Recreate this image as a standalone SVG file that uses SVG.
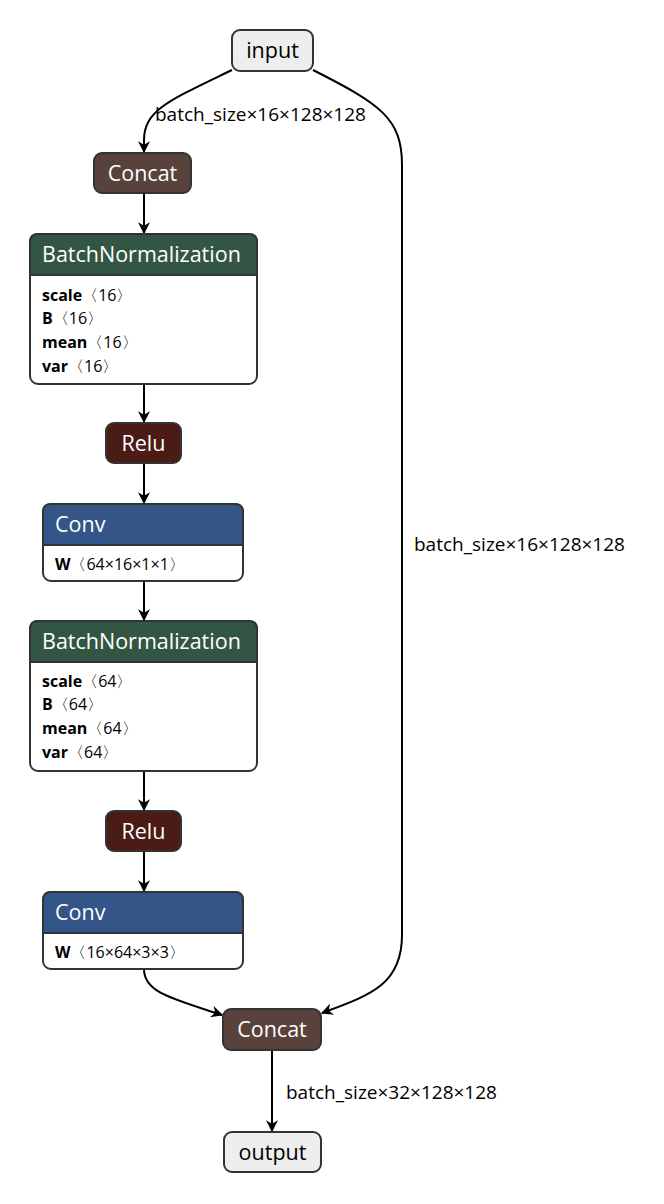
<svg xmlns="http://www.w3.org/2000/svg" width="664" height="1204" viewBox="0 0 664 1204">
  <style>
    .box { stroke: #333; stroke-width: 2; }
    .io { fill: #eeeeee; }
    .tensor { fill: #59423b; }
    .norm { fill: #335544; }
    .act { fill: #4b1b16; }
    .layer { fill: #335588; }
    .body { fill: #ffffff; }
    .title { font-family: "Open Sans", "DejaVu Sans", sans-serif; font-size: 21.5px; }
    .light { fill: #ffffff; }
    .dark { fill: #000000; }
    .attr { font-family: "Open Sans", "DejaVu Sans", sans-serif; font-size: 16px; fill: #000; }
    .attr .k { font-weight: bold; }
    .attr .br { font-family: "DejaVu Sans", sans-serif; }
    .edge { fill: none; stroke: #000; stroke-width: 2; }
    .elabel { font-family: "Open Sans", "DejaVu Sans", sans-serif; font-size: 19px; fill: #000; }
  </style>
  <defs>
    <marker id="arrow" viewBox="0 0 10 10" refX="9" refY="5" markerWidth="12" markerHeight="12" markerUnits="userSpaceOnUse" orient="auto">
      <path d="M0,0 L10,5 L0,10 L3,5 z" fill="#000"/>
    </marker>
  </defs>

  <!-- connectors -->
  <g id="edges">
    <path class="edge" d="M232,70 C170,100 144,110 144,140 L144,152" marker-end="url(#arrow)"/>
    <path class="edge" d="M313,70 C380,104 402,118 402,165 L402,935 C402,985 370,995 322,1013" marker-end="url(#arrow)"/>
    <path class="edge" d="M144,193 L144,233" marker-end="url(#arrow)"/>
    <path class="edge" d="M144,384 L144,422" marker-end="url(#arrow)"/>
    <path class="edge" d="M144,463 L144,503" marker-end="url(#arrow)"/>
    <path class="edge" d="M144,581 L144,620" marker-end="url(#arrow)"/>
    <path class="edge" d="M144,771 L144,810" marker-end="url(#arrow)"/>
    <path class="edge" d="M144,851 L144,891" marker-end="url(#arrow)"/>
    <path class="edge" d="M144,969 C144,992 170,998 222,1015" marker-end="url(#arrow)"/>
    <path class="edge" d="M272,1050 L272,1131" marker-end="url(#arrow)"/>
    <text class="elabel" x="155" y="121">batch_size×16×128×128</text>
    <text class="elabel" x="414" y="551">batch_size×16×128×128</text>
    <text class="elabel" x="286" y="1099">batch_size×32×128×128</text>
  </g>

  <g id="input">
    <rect class="box io" x="232" y="30" width="81" height="41" rx="8"/>
    <text class="title dark" x="272.5" y="58" text-anchor="middle">input</text>
  </g>

  <g id="concat1">
    <rect class="box tensor" x="94" y="153" width="97" height="40" rx="8"/>
    <text class="title light" x="142.5" y="181" text-anchor="middle">Concat</text>
  </g>

  <g id="batchnorm1">
    <rect class="box body" x="30" y="234" width="227" height="150" rx="8"/>
    <path class="box norm" d="M30,275 L30,242 Q30,234 38,234 L249,234 Q257,234 257,242 L257,275 Z"/>
    <line class="box" x1="30" y1="275" x2="257" y2="275"/>
    <text class="title light" x="42" y="262">BatchNormalization</text>
    <text class="attr" x="42" y="301"><tspan class="k">scale</tspan><tspan class="br">〈</tspan>16<tspan class="br">〉</tspan></text>
    <text class="attr" x="42" y="324"><tspan class="k">B</tspan><tspan class="br">〈</tspan>16<tspan class="br">〉</tspan></text>
    <text class="attr" x="42" y="348"><tspan class="k">mean</tspan><tspan class="br">〈</tspan>16<tspan class="br">〉</tspan></text>
    <text class="attr" x="42" y="372"><tspan class="k">var</tspan><tspan class="br">〈</tspan>16<tspan class="br">〉</tspan></text>
  </g>

  <g id="relu1">
    <rect class="box act" x="106" y="423" width="75" height="40" rx="8"/>
    <text class="title light" x="143.5" y="451" text-anchor="middle">Relu</text>
  </g>

  <g id="conv1">
    <rect class="box body" x="43" y="504" width="200" height="77" rx="8"/>
    <path class="box layer" d="M43,545 L43,512 Q43,504 51,504 L235,504 Q243,504 243,512 L243,545 Z"/>
    <line class="box" x1="43" y1="545" x2="243" y2="545"/>
    <text class="title light" x="55" y="532">Conv</text>
    <text class="attr" x="55" y="570"><tspan class="k">W</tspan><tspan class="br">〈</tspan>64×16×1×1<tspan class="br">〉</tspan></text>
  </g>

  <g id="batchnorm2">
    <rect class="box body" x="30" y="621" width="227" height="150" rx="8"/>
    <path class="box norm" d="M30,662 L30,629 Q30,621 38,621 L249,621 Q257,621 257,629 L257,662 Z"/>
    <line class="box" x1="30" y1="662" x2="257" y2="662"/>
    <text class="title light" x="42" y="649">BatchNormalization</text>
    <text class="attr" x="42" y="687"><tspan class="k">scale</tspan><tspan class="br">〈</tspan>64<tspan class="br">〉</tspan></text>
    <text class="attr" x="42" y="710"><tspan class="k">B</tspan><tspan class="br">〈</tspan>64<tspan class="br">〉</tspan></text>
    <text class="attr" x="42" y="734"><tspan class="k">mean</tspan><tspan class="br">〈</tspan>64<tspan class="br">〉</tspan></text>
    <text class="attr" x="42" y="758"><tspan class="k">var</tspan><tspan class="br">〈</tspan>64<tspan class="br">〉</tspan></text>
  </g>

  <g id="relu2">
    <rect class="box act" x="106" y="811" width="75" height="40" rx="8"/>
    <text class="title light" x="143.5" y="839" text-anchor="middle">Relu</text>
  </g>

  <g id="conv2">
    <rect class="box body" x="43" y="892" width="200" height="77" rx="8"/>
    <path class="box layer" d="M43,933 L43,900 Q43,892 51,892 L235,892 Q243,892 243,900 L243,933 Z"/>
    <line class="box" x1="43" y1="933" x2="243" y2="933"/>
    <text class="title light" x="55" y="920">Conv</text>
    <text class="attr" x="55" y="958"><tspan class="k">W</tspan><tspan class="br">〈</tspan>16×64×3×3<tspan class="br">〉</tspan></text>
  </g>

  <g id="concat2">
    <rect class="box tensor" x="223" y="1009" width="98" height="41" rx="8"/>
    <text class="title light" x="272" y="1037" text-anchor="middle">Concat</text>
  </g>

  <g id="output">
    <rect class="box io" x="224" y="1132" width="97" height="40" rx="8"/>
    <text class="title dark" x="272.5" y="1160" text-anchor="middle">output</text>
  </g>
</svg>
